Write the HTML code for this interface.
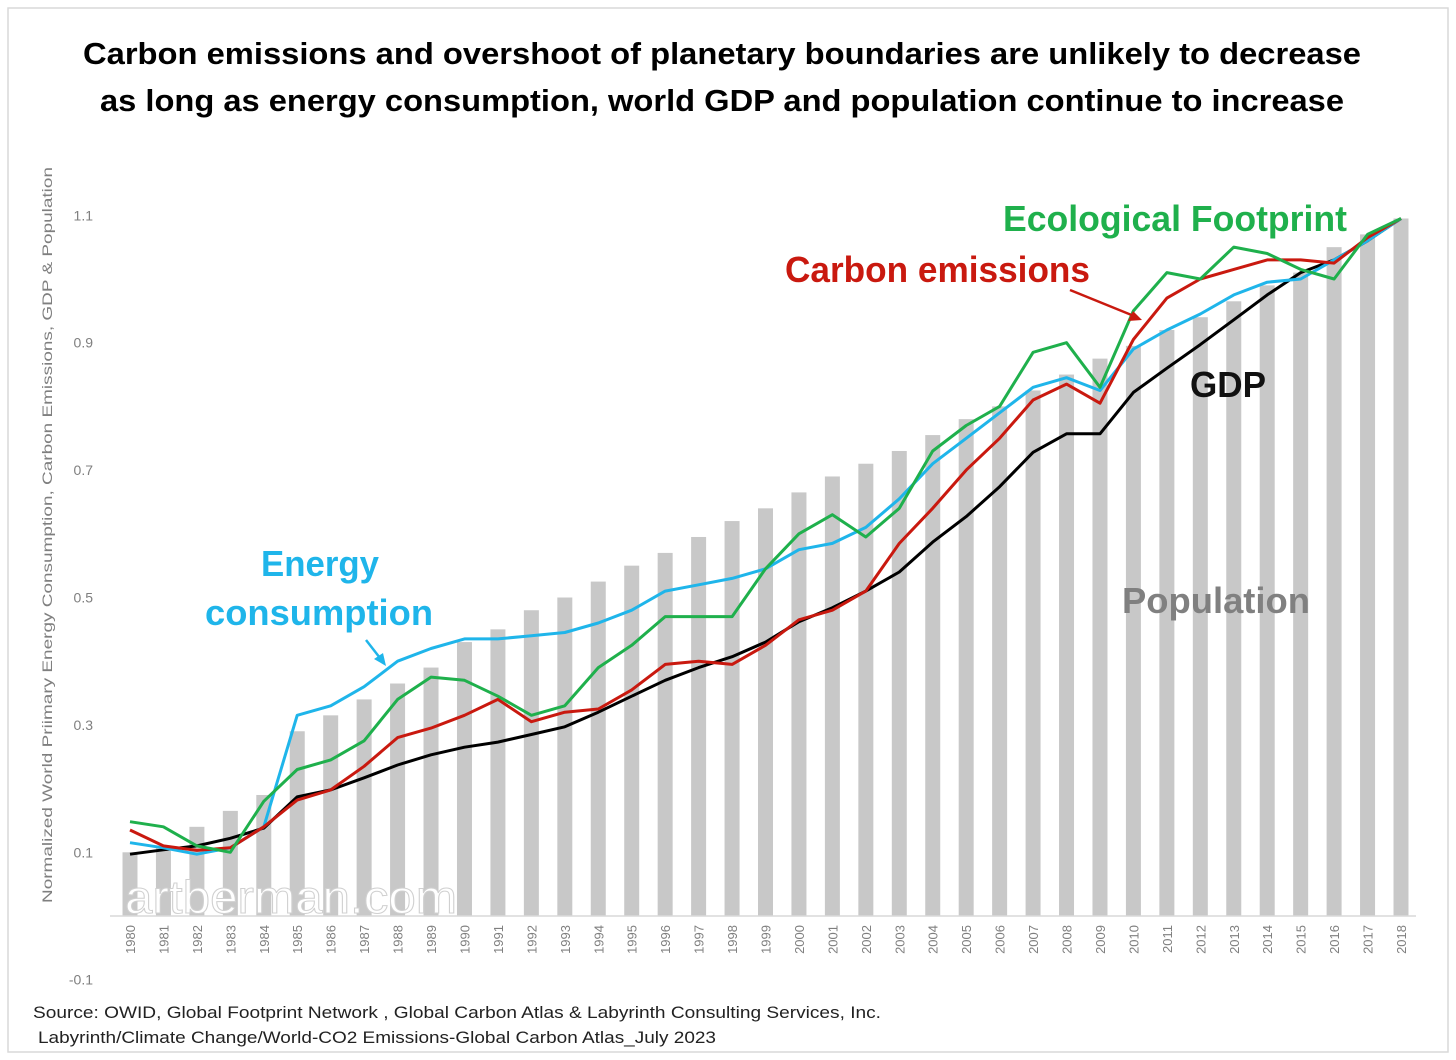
<!DOCTYPE html>
<html><head><meta charset="utf-8"><style>
html,body{margin:0;padding:0;background:#fff;}
svg{display:block;font-family:"Liberation Sans",sans-serif;}
</style></head><body>
<svg id="chart" width="1456" height="1060" viewBox="0 0 1456 1060">
<rect x="8" y="8" width="1440" height="1044" fill="#fff" stroke="#d9d9d9" stroke-width="1.5"/>
<text x="722" y="64" text-anchor="middle" font-size="31" font-weight="bold" fill="#000" textLength="1278" lengthAdjust="spacingAndGlyphs">Carbon emissions and overshoot of planetary boundaries are unlikely to decrease</text>
<text x="722" y="111" text-anchor="middle" font-size="31" font-weight="bold" fill="#000" textLength="1244" lengthAdjust="spacingAndGlyphs">as long as energy consumption, world GDP and population continue to increase</text>
<text transform="translate(52,535) rotate(-90)" text-anchor="middle" font-size="14" fill="#7f7f7f" textLength="736" lengthAdjust="spacingAndGlyphs">Normalized World Priimary Energy Consumption, Carbon Emissions, GDP &amp; Population</text>
<g id="yticks"></g>
<g id="bars"></g>
<text x="125" y="913" font-size="46" fill="#fff" stroke="#d0d0d0" stroke-width="1" textLength="332" lengthAdjust="spacingAndGlyphs">artberman.com</text>
<line x1="110" y1="916" x2="1416" y2="916" stroke="#d9d9d9" stroke-width="1.5"/>
<g id="xticks"></g>
<g id="lines"></g>
<text x="1003" y="231" font-size="36" font-weight="bold" fill="#1fb04c" textLength="344" lengthAdjust="spacingAndGlyphs">Ecological Footprint</text>
<text x="785" y="282" font-size="36" font-weight="bold" fill="#c9190f" textLength="305" lengthAdjust="spacingAndGlyphs">Carbon emissions</text>
<line x1="1070" y1="290" x2="1134" y2="316" stroke="#c9190f" stroke-width="2.5"/>
<polygon points="1142,320 1128,321 1133,311" fill="#c9190f"/>
<text x="1190" y="397" font-size="36" font-weight="bold" fill="#111" textLength="76" lengthAdjust="spacingAndGlyphs">GDP</text>
<text x="1122" y="613" font-size="36" font-weight="bold" fill="#808080" textLength="188" lengthAdjust="spacingAndGlyphs">Population</text>
<text x="320" y="576" text-anchor="middle" font-size="36" font-weight="bold" fill="#1fb5ea" textLength="118" lengthAdjust="spacingAndGlyphs">Energy</text>
<text x="205" y="625" font-size="36" font-weight="bold" fill="#1fb5ea" textLength="228" lengthAdjust="spacingAndGlyphs">consumption</text>
<line x1="366" y1="640" x2="380" y2="658" stroke="#1fb5ea" stroke-width="2.5"/>
<polygon points="386,666 374,659 383,653" fill="#1fb5ea"/>
<text x="33" y="1018" font-size="16.5" fill="#222" textLength="848" lengthAdjust="spacingAndGlyphs">Source:  OWID, Global Footprint Network , Global Carbon Atlas &amp; Labyrinth Consulting Services, Inc.</text>
<text x="38" y="1043" font-size="16.5" fill="#222" textLength="678" lengthAdjust="spacingAndGlyphs">Labyrinth/Climate Change/World-CO2 Emissions-Global Carbon Atlas_July 2023</text>
</svg>
<script>
const years=[1980,1981,1982,1983,1984,1985,1986,1987,1988,1989,1990,1991,1992,1993,1994,1995,1996,1997,1998,1999,2000,2001,2002,2003,2004,2005,2006,2007,2008,2009,2010,2011,2012,2013,2014,2015,2016,2017,2018];
const yTickLabels=["1.1","0.9","0.7","0.5","0.3","0.1","-0.1"];
const yTickValues=[1.1,0.9,0.7,0.5,0.3,0.1,-0.1];
const population=[0.1,0.11,0.14,0.165,0.19,0.29,0.315,0.34,0.365,0.39,0.43,0.45,0.48,0.5,0.525,0.55,0.57,0.595,0.62,0.64,0.665,0.69,0.71,0.73,0.755,0.78,0.8,0.825,0.85,0.875,0.895,0.92,0.94,0.965,0.99,1.01,1.05,1.07,1.095];
const energy=[0.115,0.107,0.097,0.107,0.14,0.315,0.33,0.36,0.4,0.42,0.435,0.435,0.44,0.445,0.46,0.48,0.51,0.52,0.53,0.545,0.575,0.585,0.61,0.655,0.71,0.75,0.79,0.83,0.845,0.825,0.89,0.92,0.945,0.975,0.995,1.0,1.03,1.06,1.095];
const ecological=[0.148,0.14,0.11,0.1,0.18,0.23,0.245,0.275,0.34,0.375,0.37,0.345,0.315,0.33,0.39,0.425,0.47,0.47,0.47,0.545,0.6,0.63,0.595,0.64,0.73,0.77,0.8,0.885,0.9,0.83,0.95,1.01,1.0,1.05,1.04,1.015,1.0,1.07,1.095];
const carbon=[0.135,0.11,0.103,0.107,0.14,0.182,0.198,0.235,0.28,0.295,0.315,0.34,0.305,0.32,0.325,0.355,0.395,0.4,0.395,0.425,0.465,0.48,0.51,0.585,0.64,0.7,0.75,0.81,0.835,0.805,0.905,0.97,1.0,1.015,1.03,1.03,1.025,1.065,1.095];
const gdp=[0.097,0.104,0.11,0.122,0.138,0.187,0.198,0.217,0.237,0.253,0.265,0.273,0.285,0.297,0.32,0.345,0.37,0.39,0.407,0.43,0.462,0.484,0.51,0.54,0.587,0.627,0.674,0.728,0.757,0.757,0.822,0.86,0.897,0.936,0.975,1.01,1.03,1.06,1.095];

const NS="http://www.w3.org/2000/svg";
function xPos(i){return 130+i*(1401-130)/(years.length-1);}
function yPos(v){return 916-v*637;}
function mk(tag,attrs,parent){const e=document.createElementNS(NS,tag);for(const k in attrs)e.setAttribute(k,attrs[k]);parent.appendChild(e);return e;}

const yt=document.getElementById('yticks');
yTickValues.forEach((v,i)=>{
  const t=mk('text',{x:93,y:yPos(v)+5,'text-anchor':'end','font-size':14,fill:'#7f7f7f'},yt);
  
  
  t.textContent=yTickLabels[i];
});
const bg=document.getElementById('bars');
population.forEach((v,i)=>{
  const r=mk('rect',{x:xPos(i)-7.5,y:yPos(v),width:15,height:916-yPos(v),fill:'#c8c8c8'},bg);
  
  
});
const xt=document.getElementById('xticks');
years.forEach((y,i)=>{
  const t=mk('text',{transform:'translate('+(xPos(i)+5)+',925) rotate(-90)','text-anchor':'end','font-size':13,fill:'#7f7f7f'},xt);
  
  
  t.textContent=y;
});
const lg=document.getElementById('lines');
const series=[[gdp,'#000','gdp-line'],[energy,'#1fb5ea','energy-consumption-line'],[carbon,'#c9190f','carbon-emissions-line'],[ecological,'#1fb04c','ecological-footprint-line']];
series.forEach(s=>{
  const pts=s[0].map((v,i)=>xPos(i).toFixed(1)+','+yPos(v).toFixed(1)).join(' ');
  const p=mk('polyline',{points:pts,fill:'none',stroke:s[1],'stroke-width':3,'stroke-linejoin':'round'},lg);
  
  
});
</script>
</body></html>
